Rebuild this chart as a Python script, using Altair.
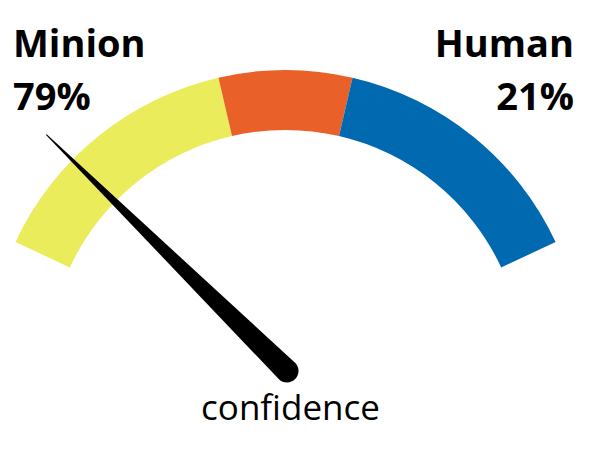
import math
import altair as alt
import pandas as pd

# ---- data ----
band_names = ["Minion", "Neutral", "Human"]
band_start = [0, 40, 60]
band_end = [40, 60, 100]
band_colors = ["#EBEC5B", "#E96128", "#0069AF"]
needle_value = 15          # position of needle on the 0-100 gauge scale
left_label, left_pct = "Minion", "79%"
right_label, right_pct = "Human", "21%"
caption = "confidence"

# ---- geometry ----
W, H = 580, 441
SPAN = 65.0                     # degrees either side of vertical
R_OUT, R_IN = 298, 238
NEEDLE_LEN = 337
FONT = "Open Sans"

xs = alt.Scale(domain=[-277.5, 302.5], nice=False, zero=False)
ys = alt.Scale(domain=[-81, 360], nice=False, zero=False)
ts = alt.Scale(domain=[0, 100], range=[-math.radians(SPAN), math.radians(SPAN)])

bands = pd.DataFrame({"name": band_names, "start": band_start, "end": band_end,
                      "cx": [0] * 3, "cy": [0] * 3})

arcs = alt.Chart(bands).mark_arc(stroke=None).encode(
    x=alt.X("cx:Q", scale=xs, axis=None),
    y=alt.Y("cy:Q", scale=ys, axis=None),
    theta=alt.Theta("start:Q", scale=ts),
    theta2="end:Q",
    radius=alt.value(R_OUT),
    radius2=alt.value(R_IN),
    color=alt.Color("name:N", scale=alt.Scale(domain=band_names, range=band_colors), legend=None),
)

ang = math.radians(-SPAN + 2 * SPAN * needle_value / 100)
px, py = 1.5, -3.0
needle = pd.DataFrame({
    "x": [px + NEEDLE_LEN * math.sin(ang), px],
    "y": [py + NEEDLE_LEN * math.cos(ang), py],
    "w": [1.0, 23.0],
    "o": [0, 1],
})
trail = alt.Chart(needle).mark_trail(color="black").encode(
    x=alt.X("x:Q", scale=xs, axis=None),
    y=alt.Y("y:Q", scale=ys, axis=None),
    size=alt.Size("w:Q", scale=None),
    order="o:Q",
)
cap = alt.Chart(needle[needle.o == 1]).mark_circle(color="black", opacity=1, size=415).encode(
    x=alt.X("x:Q", scale=xs, axis=None),
    y=alt.Y("y:Q", scale=ys, axis=None),
)

def txt(t, x, y, align, bold):
    return alt.Chart(pd.DataFrame({"t": [t]})).mark_text(
        font=FONT, fontSize=38 if bold else 35, fontWeight="bold" if bold else "normal",
        align=align, baseline="alphabetic", color="black",
    ).encode(text="t:N", x=alt.value(x), y=alt.value(y))

chart = alt.layer(
    arcs, trail, cap,
    txt(left_label, 5, 49, "left", True),
    txt(left_pct, 5, 102, "left", True),
    txt(right_label, 566, 49, "right", True),
    txt(right_pct, 566, 102, "right", True),
    txt(caption, 282.5, 412, "center", False),
).properties(width=W, height=H, padding=0, autosize=alt.AutoSizeParams(type="none")
).configure_view(stroke=None)

chart.save("out.html", embed_options={"renderer": "svg", "actions": False})
